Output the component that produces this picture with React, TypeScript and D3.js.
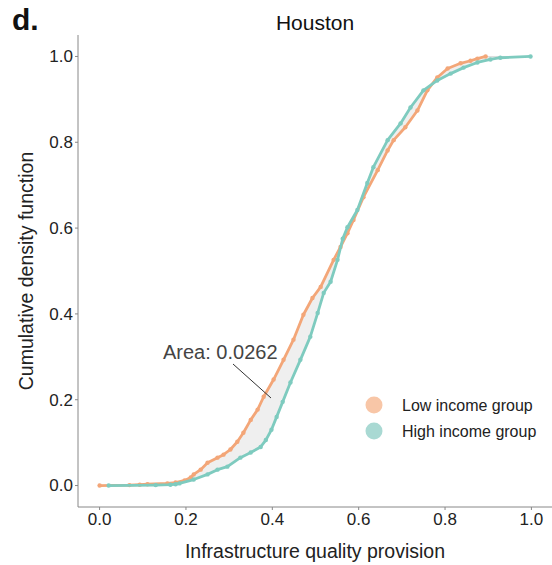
import React from "react";
import * as d3 from "d3";

// Low income group: empirical CDF points (x = infrastructure quality, y = CDF)
const lowX = [0.0, 0.069, 0.093, 0.111, 0.157, 0.176, 0.197, 0.211, 0.218, 0.234, 0.25, 0.273, 0.287, 0.303, 0.319, 0.333, 0.35, 0.366, 0.38, 0.403, 0.426, 0.449, 0.472, 0.493, 0.512, 0.542, 0.558, 0.574, 0.588, 0.611, 0.644, 0.667, 0.681, 0.708, 0.736, 0.759, 0.782, 0.806, 0.836, 0.859, 0.875, 0.894];
const lowY = [0.0, 0.001, 0.002, 0.003, 0.005, 0.007, 0.012, 0.019, 0.026, 0.037, 0.053, 0.065, 0.072, 0.084, 0.102, 0.123, 0.153, 0.177, 0.207, 0.247, 0.293, 0.34, 0.398, 0.437, 0.463, 0.526, 0.556, 0.588, 0.619, 0.672, 0.735, 0.781, 0.805, 0.835, 0.874, 0.921, 0.951, 0.972, 0.984, 0.99, 0.995, 1.0];

// High income group
const highX = [0.021, 0.13, 0.164, 0.176, 0.185, 0.218, 0.25, 0.273, 0.296, 0.326, 0.35, 0.373, 0.385, 0.398, 0.41, 0.424, 0.442, 0.465, 0.488, 0.505, 0.519, 0.535, 0.551, 0.563, 0.574, 0.597, 0.62, 0.634, 0.667, 0.697, 0.72, 0.75, 0.782, 0.813, 0.843, 0.875, 0.905, 0.928, 0.998];
const highY = [0.0, 0.001, 0.002, 0.003, 0.005, 0.014, 0.026, 0.037, 0.044, 0.065, 0.077, 0.09, 0.106, 0.13, 0.16, 0.195, 0.24, 0.293, 0.347, 0.402, 0.449, 0.475, 0.526, 0.575, 0.602, 0.642, 0.705, 0.742, 0.805, 0.844, 0.881, 0.921, 0.944, 0.96, 0.974, 0.986, 0.993, 0.997, 1.0];

const xTicks = [0, 0.2, 0.4, 0.6, 0.8, 1.0];
const yTicks = [0, 0.2, 0.4, 0.6, 0.8, 1.0];
const seriesNames = ["Low income group", "High income group"];
const areaLabel = "Area: 0.0262";

const W = 552;
const H = 565;
const FONT = "'Liberation Sans', Arial, Helvetica, sans-serif";
const ORANGE = "#f3a678";
const TEAL = "#7ecbbf";
const ORANGE_L = "#f8c6a7";
const TEAL_L = "#a9d9d3";

export default function App() {
  const x = d3.scaleLinear().domain([-0.05, 1.05]).range([78, 553]);
  const y = d3.scaleLinear().domain([-0.05, 1.05]).range([507, 35]);

  const low = lowX.map((v, i) => [v, lowY[i]] as [number, number]);
  const high = highX.map((v, i) => [v, highY[i]] as [number, number]);

  const line = d3
    .line<[number, number]>()
    .x((d) => x(d[0]))
    .y((d) => y(d[1]));

  const polygon = [...low, ...high.slice().reverse()];
  const fillPath = line(polygon) + "Z";

  return (
    <svg
      width={W}
      height={H}
      style={{ position: "absolute", left: 0, top: 0, background: "#fff" }}
      fontFamily={FONT}
    >
      <rect x={0} y={0} width={W} height={H} fill="#fff" />
      {/* panel letter and title */}
      <text x={12} y={30} fontSize={30} fontWeight="bold" fill="#111">
        d.
      </text>
      <text x={315} y={30} fontSize={21} textAnchor="middle" fill="#111">
        Houston
      </text>

      {/* fill between curves */}
      <path d={fillPath} fill="#efefef" stroke="#dcdcdc" strokeWidth={1} />

      {/* low income */}
      <path d={line(low) || ""} fill="none" stroke={ORANGE} strokeWidth={2.8} strokeLinejoin="round" />
      {low.map((d, i) => (
        <circle key={"l" + i} cx={x(d[0])} cy={y(d[1])} r={2.2} fill={ORANGE} />
      ))}
      {/* high income */}
      <path d={line(high) || ""} fill="none" stroke={TEAL} strokeWidth={2.8} strokeLinejoin="round" />
      {high.map((d, i) => (
        <circle key={"h" + i} cx={x(d[0])} cy={y(d[1])} r={2.2} fill={TEAL} />
      ))}

      {/* annotation */}
      <line x1={233} y1={364} x2={271} y2={398} stroke="#333" strokeWidth={1} />
      <text x={163} y={359} fontSize={20} fill="#444">
        {areaLabel}
      </text>

      {/* axes */}
      <line x1={x.range()[0]} x2={x.range()[1]} y1={507} y2={507} stroke="#888" strokeWidth={1} />
      <line x1={78} x2={78} y1={y.range()[0]} y2={y.range()[1]} stroke="#888" strokeWidth={1} />
      {xTicks.map((t) => (
        <g key={"xt" + t}>
          <line x1={x(t)} x2={x(t)} y1={507} y2={510} stroke="#888" />
          <text x={x(t)} y={525} fontSize={17} textAnchor="middle" fill="#222">
            {t.toFixed(1)}
          </text>
        </g>
      ))}
      {yTicks.map((t) => (
        <g key={"yt" + t}>
          <line x1={75} x2={78} y1={y(t)} y2={y(t)} stroke="#888" />
          <text x={73} y={y(t)} dy="0.35em" fontSize={17} textAnchor="end" fill="#222">
            {t.toFixed(1)}
          </text>
        </g>
      ))}
      <text x={315} y={558} fontSize={19.5} textAnchor="middle" fill="#222">
        Infrastructure quality provision
      </text>
      <text
        transform="translate(33,271) rotate(-90)"
        fontSize={19.5}
        textAnchor="middle"
        fill="#222"
      >
        Cumulative density function
      </text>

      {/* legend */}
      {seriesNames.map((name, i) => (
        <g key={name}>
          <circle cx={374} cy={405 + i * 26} r={8.5} fill={i === 0 ? ORANGE_L : TEAL_L} />
          <text x={402} y={405 + i * 26} dy="0.35em" fontSize={16} fill="#222">
            {name}
          </text>
        </g>
      ))}
    </svg>
  );
}
